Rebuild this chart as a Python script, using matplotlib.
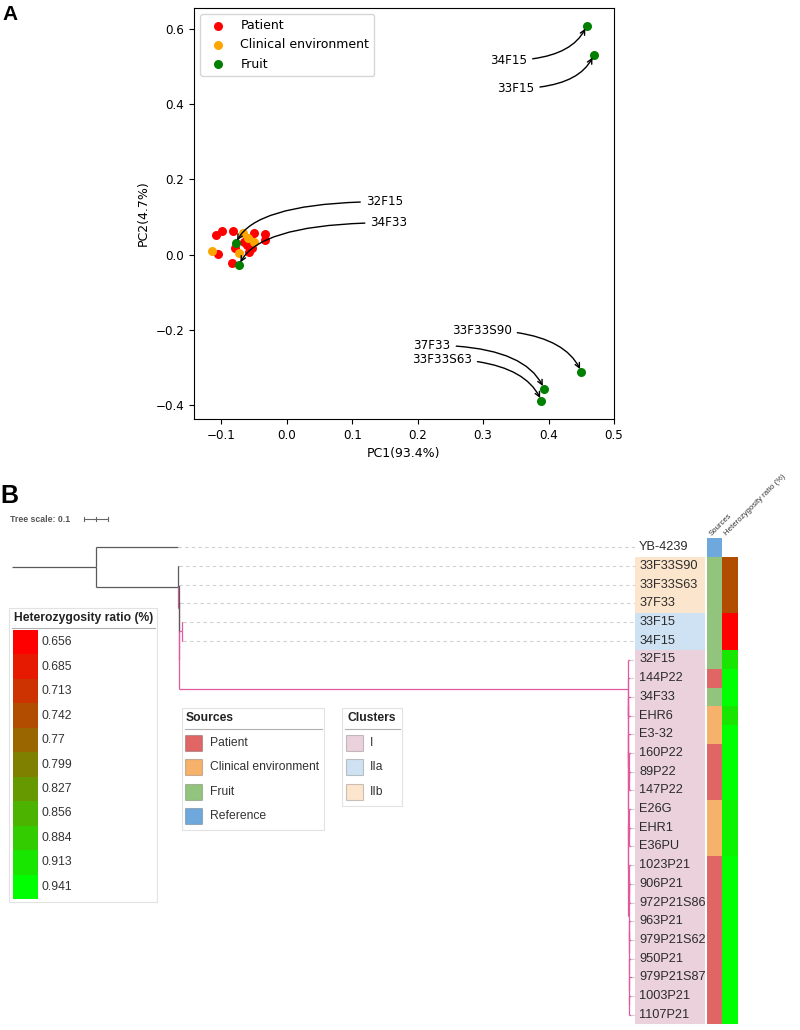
import matplotlib
matplotlib.use("Agg")
import matplotlib.pyplot as plt
import numpy as np
from matplotlib.colors import LinearSegmentedColormap, Normalize
from matplotlib.patches import Rectangle

# ------------------------------------------------------------------ data A
pca_groups = ["Patient", "Clinical environment", "Fruit"]
pca_colors = ["red", "orange", "green"]

patient_pc1 = [-0.108, -0.099, -0.105, -0.082, -0.051, -0.033, -0.033,
               -0.061, -0.080, -0.054, -0.058, -0.084, -0.065]
patient_pc2 = [0.053, 0.064, 0.003, 0.064, 0.058, 0.055, 0.040,
               0.027, 0.019, 0.018, 0.006, -0.023, 0.035]
clinical_pc1 = [-0.115, -0.067, -0.060, -0.051, -0.073]
clinical_pc2 = [0.011, 0.058, 0.045, 0.033, 0.005]
fruit_names = ["32F15", "34F33", "34F15", "33F15", "33F33S90", "37F33", "33F33S63"]
fruit_pc1 = [-0.078, -0.073, 0.458, 0.469, 0.450, 0.393, 0.389]
fruit_pc2 = [0.031, -0.027, 0.608, 0.531, -0.311, -0.356, -0.388]
# annotation text anchors and arrow arrival angle
label_pc1 = [0.149, 0.156, 0.339, 0.350, 0.298, 0.222, 0.237]
label_pc2 = [0.141, 0.085, 0.517, 0.442, -0.201, -0.241, -0.278]
arrow_angle = [66, 66, 66, 66, 114, 114, 114]

xticks_a = [-0.1, 0.0, 0.1, 0.2, 0.3, 0.4, 0.5]
yticks_a = [-0.4, -0.2, 0.0, 0.2, 0.4, 0.6]

# ------------------------------------------------------------------ data B
leaf_names = ["YB-4239", "33F33S90", "33F33S63", "37F33", "33F15", "34F15",
              "32F15", "144P22", "34F33", "EHR6", "E3-32", "160P22", "89P22",
              "147P22", "E26G", "EHR1", "E36PU", "1023P21", "906P21",
              "972P21S86", "963P21", "979P21S62", "950P21", "979P21S87",
              "1003P21", "1107P21"]
leaf_sources = ["Reference", "Fruit", "Fruit", "Fruit", "Fruit", "Fruit",
                "Fruit", "Patient", "Fruit", "Clinical environment",
                "Clinical environment", "Patient", "Patient", "Patient",
                "Clinical environment", "Clinical environment",
                "Clinical environment", "Patient", "Patient", "Patient",
                "Patient", "Patient", "Patient", "Patient", "Patient", "Patient"]
leaf_clusters = ["", "IIb", "IIb", "IIb", "IIa", "IIa",
                 "I", "I", "I", "I", "I", "I", "I", "I", "I", "I", "I",
                 "I", "I", "I", "I", "I", "I", "I", "I", "I"]
leaf_het = [np.nan, 0.742, 0.742, 0.742, 0.656, 0.656,
            0.913, 0.941, 0.941, 0.913, 0.941, 0.941, 0.941, 0.941,
            0.927, 0.927, 0.927, 0.941, 0.941, 0.941, 0.941, 0.941,
            0.941, 0.941, 0.941, 0.941]

tree_newick = (
    "(YB-4239:0.342,(33F33S90:0.002,(33F33S63:0.002,(37F33:0.002,"
    "((33F15:0.004,34F15:0.004):0.01,"
    "(32F15:0.012,(144P22:0.01,((34F33:0.01,EHR6:0.01):0.0008,((E3-32:0.01,"
    "(160P22:0.01,(89P22:0.01,147P22:0.01):0.0008):0.0008):0.0008,"
    "((E26G:0.01,(EHR1:0.01,E36PU:0.01):0.0008):0.0008,"
    "((1023P21:0.01,(906P21:0.01,972P21S86:0.01):0.0008):0.0008,"
    "((963P21:0.01,979P21S62:0.01):0.0008,(950P21:0.01,(979P21S87:0.01,"
    "(1003P21:0.008,1107P21:0.008):0.0008):0.0008):0.0008):0.0008)"
    ":0.0008):0.0008):0.0008):0.0008):0.0008):1.868):0.001):0.002):0.002)"
    ":0.342):0.35;"
)
tree_scale = 0.1

source_names = ["Patient", "Clinical environment", "Fruit", "Reference"]
source_colors = ["#e06666", "#f6b26b", "#93c47d", "#6fa8dc"]
cluster_names = ["I", "IIa", "IIb"]
cluster_colors = ["#ead1dc", "#cfe2f3", "#fce5cd"]
het_levels = [0.656, 0.685, 0.713, 0.742, 0.77, 0.799, 0.827, 0.856,
              0.884, 0.913, 0.941]
het_labels = ["0.656", "0.685", "0.713", "0.742", "0.77", "0.799", "0.827",
              "0.856", "0.884", "0.913", "0.941"]

# ------------------------------------------------------------------ figure
W, H = 800, 1030
fig = plt.figure(figsize=(8, 10.3), dpi=100)
SANS = ["Liberation Sans", "DejaVu Sans"]


def px_axes(x0, y0, x1, y1, **kw):
    return fig.add_axes([x0 / W, 1 - y1 / H, (x1 - x0) / W, (y1 - y0) / H], **kw)


# overlay in pixel units for legends / headers
ov = px_axes(0, 0, W, H)
ov.set_xlim(0, W)
ov.set_ylim(H, 0)
ov.axis("off")

# ------------------------------------------------------------------ panel A
axA = px_axes(194, 8, 614, 419)
FS = 8.6
axA.scatter(patient_pc1, patient_pc2, s=30, color=pca_colors[0], label=pca_groups[0])
axA.scatter(clinical_pc1, clinical_pc2, s=30, color=pca_colors[1], label=pca_groups[1])
axA.scatter(fruit_pc1, fruit_pc2, s=30, color=pca_colors[2], label=pca_groups[2])
for name, x, y, tx, ty, ang in zip(fruit_names, fruit_pc1, fruit_pc2,
                                   label_pc1, label_pc2, arrow_angle):
    axA.annotate(name, xy=(x, y), xytext=(tx, ty), textcoords="data",
                 ha="center", va="center", fontsize=FS,
                 arrowprops=dict(arrowstyle="->", color="black", lw=1.0,
                                 connectionstyle=f"angle3,angleA=0,angleB={ang}"))
axA.set_xlim(-0.142, 0.5)
axA.set_ylim(-0.437, 0.656)
axA.set_xticks(xticks_a)
axA.set_yticks(yticks_a)
axA.tick_params(labelsize=FS)
axA.set_xlabel("PC1(93.4%)", fontsize=9)
axA.set_ylabel("PC2(4.7%)", fontsize=9)
axA.legend(loc="upper left", fontsize=9)

fig.text(2 / W, 1 - 20 / H, "A", fontsize=15, fontweight="bold",
         family=SANS, va="baseline", ha="left")
fig.text(0 / W, 1 - 503 / H, "B", fontsize=18, fontweight="bold",
         family=SANS, va="baseline", ha="left")


# ------------------------------------------------------------------ tree
def parse_newick(s):
    s = s.strip().rstrip(";")
    pos = 0

    def parse():
        nonlocal pos
        children = []
        if s[pos] == "(":
            pos += 1
            while True:
                children.append(parse())
                if s[pos] == ",":
                    pos += 1
                    continue
                if s[pos] == ")":
                    pos += 1
                    break
        start = pos
        while pos < len(s) and s[pos] not in ",():":
            pos += 1
        name = s[start:pos]
        length = 0.0
        if pos < len(s) and s[pos] == ":":
            pos += 1
            start = pos
            while pos < len(s) and s[pos] not in ",()":
                pos += 1
            length = float(s[start:pos])
        return {"name": name, "len": length, "children": children}

    return parse()


pink_clusters = {"I", "IIa"}


def layout(node, depth):
    node["x"] = depth + node["len"]
    if not node["children"]:
        i = leaf_names.index(node["name"])
        node["y"] = i
        node["pink"] = leaf_clusters[i] in pink_clusters
    else:
        for c in node["children"]:
            layout(c, node["x"])
        node["y"] = (node["children"][0]["y"] + node["children"][-1]["y"]) / 2
        node["pink"] = any(c["pink"] for c in node["children"])


root = parse_newick(tree_newick)
layout(root, 0.0)

TREE_X1 = (635 - 12) / 240.0  # tree depth units at label column
axT = px_axes(12, 538, 635, 1024)
axT.set_xlim(0, TREE_X1)
axT.set_ylim(len(leaf_names) - 0.5, -0.5)
axT.axis("off")

GRAY = "#5a5a5a"
PINK = "#e0589f"


def edge_color(node, parent_x):
    return PINK if (node["pink"] and parent_x > 0.5) else GRAY


def draw(node, parent_x):
    col = edge_color(node, parent_x)
    axT.plot([parent_x, node["x"]], [node["y"], node["y"]], color=col,
             lw=0.9, solid_capstyle="butt")
    if not node["children"]:
        axT.plot([node["x"], TREE_X1], [node["y"], node["y"]], color="#d0d0d0",
                 lw=0.8, dashes=(3, 3))
    for c in node["children"]:
        ccol = edge_color(c, node["x"])
        axT.plot([node["x"], node["x"]], [node["y"], c["y"]], color=ccol,
                 lw=0.9, solid_capstyle="butt")
        draw(c, node["x"])


draw(root, 0.0)

# tree scale bar
sb_y = -1.52
sb_x0 = (84 - 12) / 240.0
axT.plot([sb_x0, sb_x0 + tree_scale], [sb_y, sb_y], color="#666666", lw=0.8,
         clip_on=False)
for tx in [sb_x0, sb_x0 + tree_scale / 2, sb_x0 + tree_scale]:
    axT.plot([tx, tx], [sb_y - 0.12, sb_y + 0.12], color="#666666", lw=0.8,
             clip_on=False)
fig.text(10 / W, 1 - 519 / H, "Tree scale: 0.1", fontsize=6.3,
         fontweight="bold", color="#555555", family=SANS, va="center")

# label column with cluster backgrounds
axL = px_axes(635, 538, 705, 1024)
axL.set_xlim(0, 1)
axL.set_ylim(len(leaf_names) - 0.5, -0.5)
axL.axis("off")
rows = np.arange(len(leaf_names))
for r, cl in zip(rows, leaf_clusters):
    if cl:
        axL.barh(r, 1, height=1.0, left=0,
                 color=cluster_colors[cluster_names.index(cl)], lw=0)
    axL.text(0.06, r, leaf_names[r], fontsize=9.2, family=SANS,
             color="#2b2b2b", va="center", ha="left")

# sources column
axS = px_axes(707, 538, 722, 1024)
axS.set_xlim(0, 1)
axS.set_ylim(len(leaf_names) - 0.5, -0.5)
axS.axis("off")
for r, src in zip(rows, leaf_sources):
    axS.barh(r, 1, height=1.0, left=0,
             color=source_colors[source_names.index(src)], lw=0)

# heterozygosity column
het_cmap = LinearSegmentedColormap.from_list("het", ["#ff0000", "#00ff00"])
het_norm = Normalize(vmin=het_levels[0], vmax=het_levels[-1])
axH = px_axes(722, 538, 738, 1024)
axH.set_xlim(0, 1)
axH.set_ylim(len(leaf_names) - 0.5, -0.5)
axH.axis("off")
for r, v in zip(rows, leaf_het):
    if not np.isnan(v):
        axH.barh(r, 1, height=1.0, left=0, color=het_cmap(het_norm(v)), lw=0)

# column headers
ov.text(713, 537, "Sources", rotation=45, rotation_mode="anchor", fontsize=5.6,
        family=SANS, color="#333333", ha="left", va="bottom")
ov.text(728, 537, "Heterozygosity ratio (%)", rotation=45,
        rotation_mode="anchor", fontsize=5.6, family=SANS, color="#333333",
        ha="left", va="bottom")

# ------------------------------------------------------------------ legends
LFS = 8.7
BOX = "#e2e2e2"
ULINE = "#b0b0b0"

# heterozygosity legend
ov.add_patch(Rectangle((9, 608), 148, 294, fill=False, ec=BOX, lw=0.8))
ov.text(14, 618, "Heterozygosity ratio (%)", fontsize=LFS, fontweight="bold",
        family=SANS, color="#222222", va="center", ha="left")
ov.plot([12, 155], [628, 628], color=ULINE, lw=0.8)
blk_h = (899 - 630) / len(het_levels)
for k, (v, lab) in enumerate(zip(het_levels, het_labels)):
    y0 = 630 + k * blk_h
    ov.add_patch(Rectangle((13, y0), 25, blk_h, color=het_cmap(het_norm(v)), lw=0))
    ov.text(42, y0 + blk_h / 2, lab, fontsize=LFS, family=SANS,
            color="#333333", va="center", ha="left")

# sources legend
ov.add_patch(Rectangle((182, 708), 142, 122, fill=False, ec=BOX, lw=0.8))
ov.text(186, 718, "Sources", fontsize=LFS, fontweight="bold", family=SANS,
        color="#222222", va="center", ha="left")
ov.plot([185, 322], [729, 729], color=ULINE, lw=0.8)
for k, (nm, col) in enumerate(zip(source_names, source_colors)):
    yc = 743 + k * 24.3
    ov.add_patch(Rectangle((185, yc - 8), 17, 16, fc=col, ec="#00000035", lw=0.8))
    ov.text(210, yc, nm, fontsize=LFS, family=SANS, color="#333333",
            va="center", ha="left")

# clusters legend
ov.add_patch(Rectangle((342, 708), 60, 98, fill=False, ec=BOX, lw=0.8))
ov.text(347, 718, "Clusters", fontsize=LFS, fontweight="bold", family=SANS,
        color="#222222", va="center", ha="left")
ov.plot([345, 400], [729, 729], color=ULINE, lw=0.8)
for k, (nm, col) in enumerate(zip(cluster_names, cluster_colors)):
    yc = 743 + k * 24.3
    ov.add_patch(Rectangle((346, yc - 8), 17, 16, fc=col, ec="#00000035", lw=0.8))
    ov.text(370, yc, nm, fontsize=LFS, family=SANS, color="#333333",
            va="center", ha="left")

fig.savefig("out.png", dpi=100)
